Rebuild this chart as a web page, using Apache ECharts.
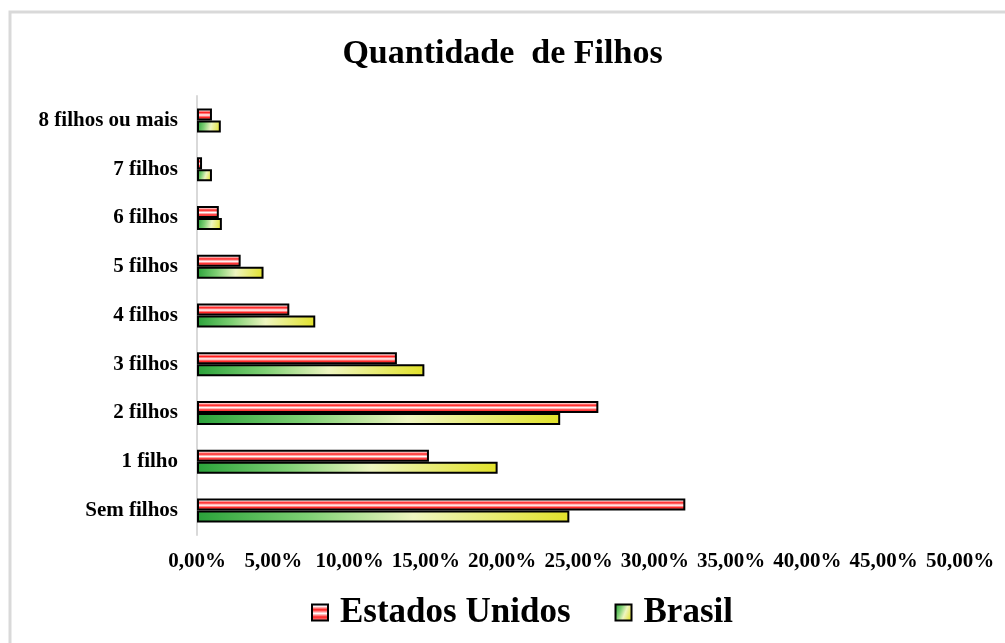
<!DOCTYPE html>
<html>
<head>
<meta charset="utf-8">
<style>
  html, body { margin: 0; padding: 0; background: #fff; }
  #chart { width: 1005px; height: 643px; }
</style>
<script src="https://cdn.jsdelivr.net/npm/echarts@6/dist/echarts.min.js"></script>
</head>
<body>
<div id="chart"></div>
<script>
// dados
var categorias = ['Sem filhos', '1 filho', '2 filhos', '3 filhos', '4 filhos', '5 filhos', '6 filhos', '7 filhos', '8 filhos ou mais']
var estadosUnidos = [32.0, 15.2, 26.3, 13.1, 6.05, 2.86, 1.43, 0.33, 0.98]
var brasil = [24.4, 19.7, 23.8, 14.9, 7.75, 4.36, 1.63, 0.98, 1.56]
var serieNomes = ['Estados Unidos', 'Brasil']

var fonte = '"Liberation Serif", "DejaVu Serif", serif'

// listras vermelhas (aprox. do padrao do Excel)
var corEUA = {
  type: 'linear', x: 0, y: 0, x2: 0, y2: 1,
  colorStops: [
    { offset: 0, color: '#b4b4ff' },
    { offset: 0.15, color: '#ffffff' },
    { offset: 0.35, color: '#ff1a1a' },
    { offset: 0.55, color: '#ffffff' },
    { offset: 0.75, color: '#ff2020' },
    { offset: 1, color: '#ffb8b8' }
  ]
}
var corBrasil = {
  type: 'linear', x: 0, y: 0.3, x2: 1, y2: 0.7,
  colorStops: [
    { offset: 0, color: '#2aa23a' },
    { offset: 0.3, color: '#7fd074' },
    { offset: 0.58, color: '#eef5c0' },
    { offset: 1, color: '#e2e22a' }
  ]
}

var chart = echarts.init(document.getElementById('chart'))
chart.setOption({
  backgroundColor: '#fff',
  animation: false,
  title: {
    text: 'Quantidade  de Filhos',
    left: 'center',
    top: 32,
    textStyle: { fontFamily: fonte, fontSize: 34, fontWeight: 'bold', color: '#000' }
  },
  graphic: [{
    type: 'rect',
    shape: { x: 10, y: 12, width: 2000, height: 2000 },
    style: { fill: 'none', stroke: '#d9d9d9', lineWidth: 3 },
    silent: true
  }],
  legend: {
    bottom: 8,
    left: 306,
    icon: 'rect',
    itemWidth: 16,
    itemHeight: 16,
    itemGap: 44,
    data: serieNomes,
    textStyle: { fontFamily: fonte, fontSize: 35, fontWeight: 'bold', color: '#000', padding: [0, 0, 0, 7] }
  },
  grid: { left: 197, right: 45, top: 96, bottom: 108 },
  xAxis: {
    type: 'value',
    min: 0,
    max: 50,
    interval: 5,
    axisLine: { show: false },
    axisTick: { show: false },
    splitLine: { show: false },
    axisLabel: {
      margin: 16,
      fontFamily: fonte, fontSize: 21, fontWeight: 'bold', color: '#000',
      formatter: function (v) { return v.toFixed(2).replace('.', ',') + '%' }
    }
  },
  yAxis: {
    type: 'category',
    data: categorias,
    axisLine: { show: true, lineStyle: { color: '#d9d9d9', width: 2 } },
    axisTick: { show: false },
    axisLabel: {
      margin: 19,
      fontFamily: fonte, fontSize: 21, fontWeight: 'bold', color: '#000'
    }
  },
  series: [{
    name: serieNomes[0],
    type: 'bar',
    barWidth: 12,
    barGap: '0%',
    itemStyle: { color: corEUA, borderColor: '#000', borderWidth: 2 },
    data: estadosUnidos
  }, {
    name: serieNomes[1],
    type: 'bar',
    barWidth: 12,
    barGap: '0%',
    itemStyle: { color: corBrasil, borderColor: '#000', borderWidth: 2 },
    data: brasil
  }]
})
</script>
</body>
</html>
